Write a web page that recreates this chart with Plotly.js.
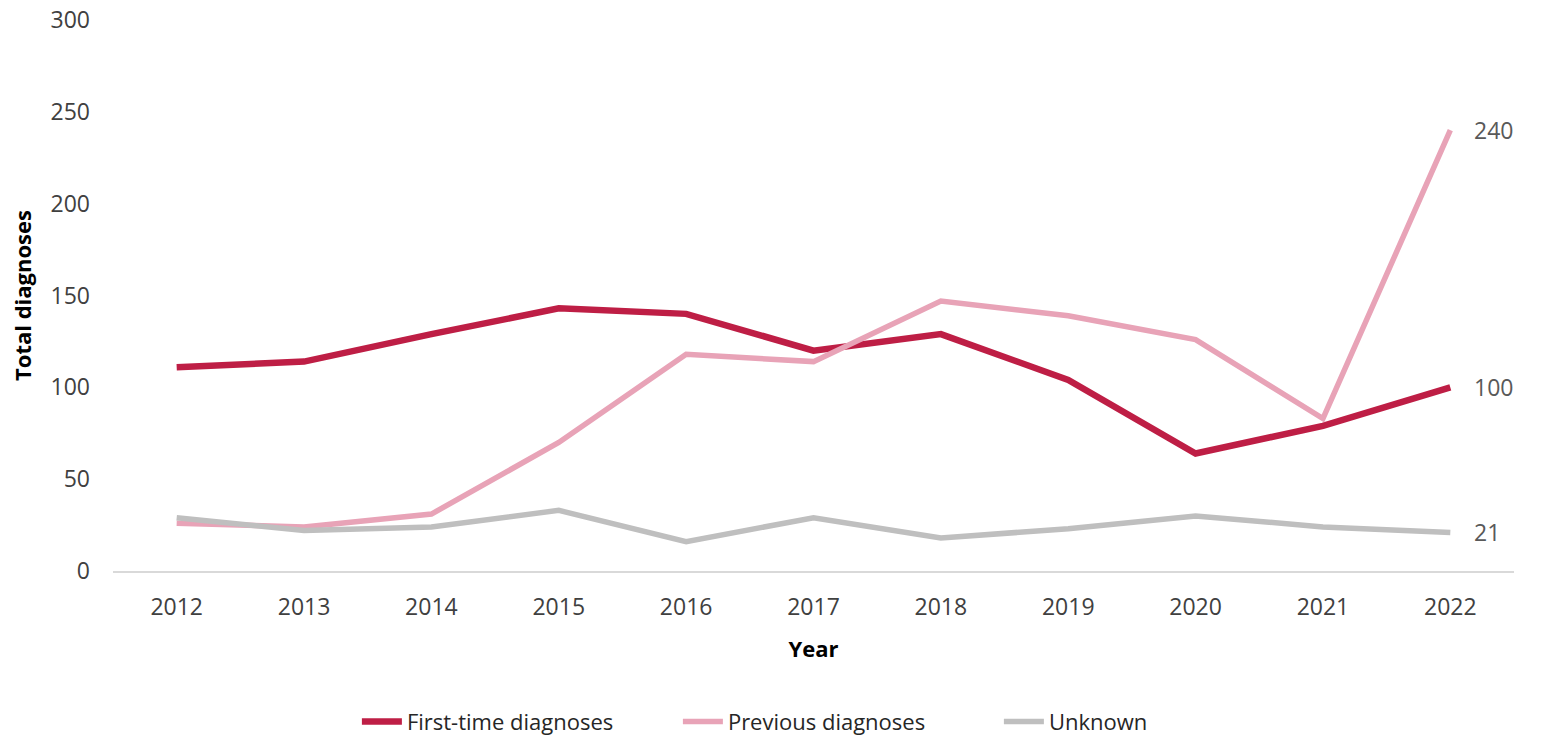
<!DOCTYPE html>
<html>
<head>
<meta charset="utf-8">
<script src="https://cdn.plot.ly/plotly-3.0.1.min.js"></script>
<style>html,body{margin:0;padding:0;background:#fff;}#chart{width:1544px;height:738px;}</style>
</head>
<body>
<div id="chart"></div>
<script>
const years = ['2012','2013','2014','2015','2016','2017','2018','2019','2020','2021','2022'];
const firstTime = [111, 114, 129, 143, 140, 120, 129, 104, 64, 79, 100];
const previous = [26, 24, 31, 70, 118, 114, 147, 139, 126, 83, 240];
const unknown = [29, 22, 24, 33, 16, 29, 18, 23, 30, 24, 21];
const seriesNames = ['First-time diagnoses', 'Previous diagnoses', 'Unknown'];
const yTicks = [0, 50, 100, 150, 200, 250, 300];

const FONT = "'Open Sans', 'Liberation Sans', sans-serif";
const colors = ['#BE1E45', '#E8A3B7', '#BFBFBF'];
const widths = [6.5, 5.5, 5.5];
const series = [firstTime, previous, unknown];

const traces = series.map((vals, i) => ({
  type: 'scatter', mode: 'lines', x: years, y: vals, name: seriesNames[i],
  line: {color: colors[i], width: widths[i]}, hoverinfo: 'skip'
}));

const lastIdx = years.length - 1;
const annotations = series.map(vals => ({
  x: lastIdx, y: vals[lastIdx], xref: 'x', yref: 'y',
  text: String(vals[lastIdx]), showarrow: false, xanchor: 'left', xshift: 22,
  font: {family: FONT, size: 23, color: '#595959'}
}));

const layout = {
  width: 1544, height: 738,
  margin: {l: 113, r: 30, t: 20, b: 167},
  paper_bgcolor: '#fff', plot_bgcolor: '#fff',
  font: {family: FONT, size: 23, color: '#404040'},
  showlegend: true,
  legend: {orientation: 'h', xref: 'container', yref: 'container', x: 0.543, xanchor: 'center',
           y: 0.022, yanchor: 'middle', font: {family: FONT, size: 22, color: '#262626'},
           itemwidth: 40, traceorder: 'normal', entrywidth: 266},
  xaxis: {type: 'category', range: [-0.5, 10.5], showgrid: false, zeroline: false,
          showline: true, linecolor: '#D9D9D9', linewidth: 2, ticks: '',
          tickfont: {family: FONT, size: 23, color: '#404040'}, ticklabelstandoff: 14,
          title: {text: '<b>Year</b>', font: {family: FONT, size: 22, color: '#000'}, standoff: 21},
          fixedrange: true},
  yaxis: {range: [0, 300], tickvals: yTicks, showgrid: false, zeroline: false, showline: false,
          ticks: '', tickfont: {family: FONT, size: 23, color: '#404040'}, ticklabelstandoff: 22,
          title: {text: '<b>Total diagnoses</b>', font: {family: FONT, size: 22, color: '#000'}, standoff: 12},
          fixedrange: true},
  annotations: annotations
};

Plotly.newPlot('chart', traces, layout, {staticPlot: true, displayModeBar: false});
</script>
</body>
</html>
